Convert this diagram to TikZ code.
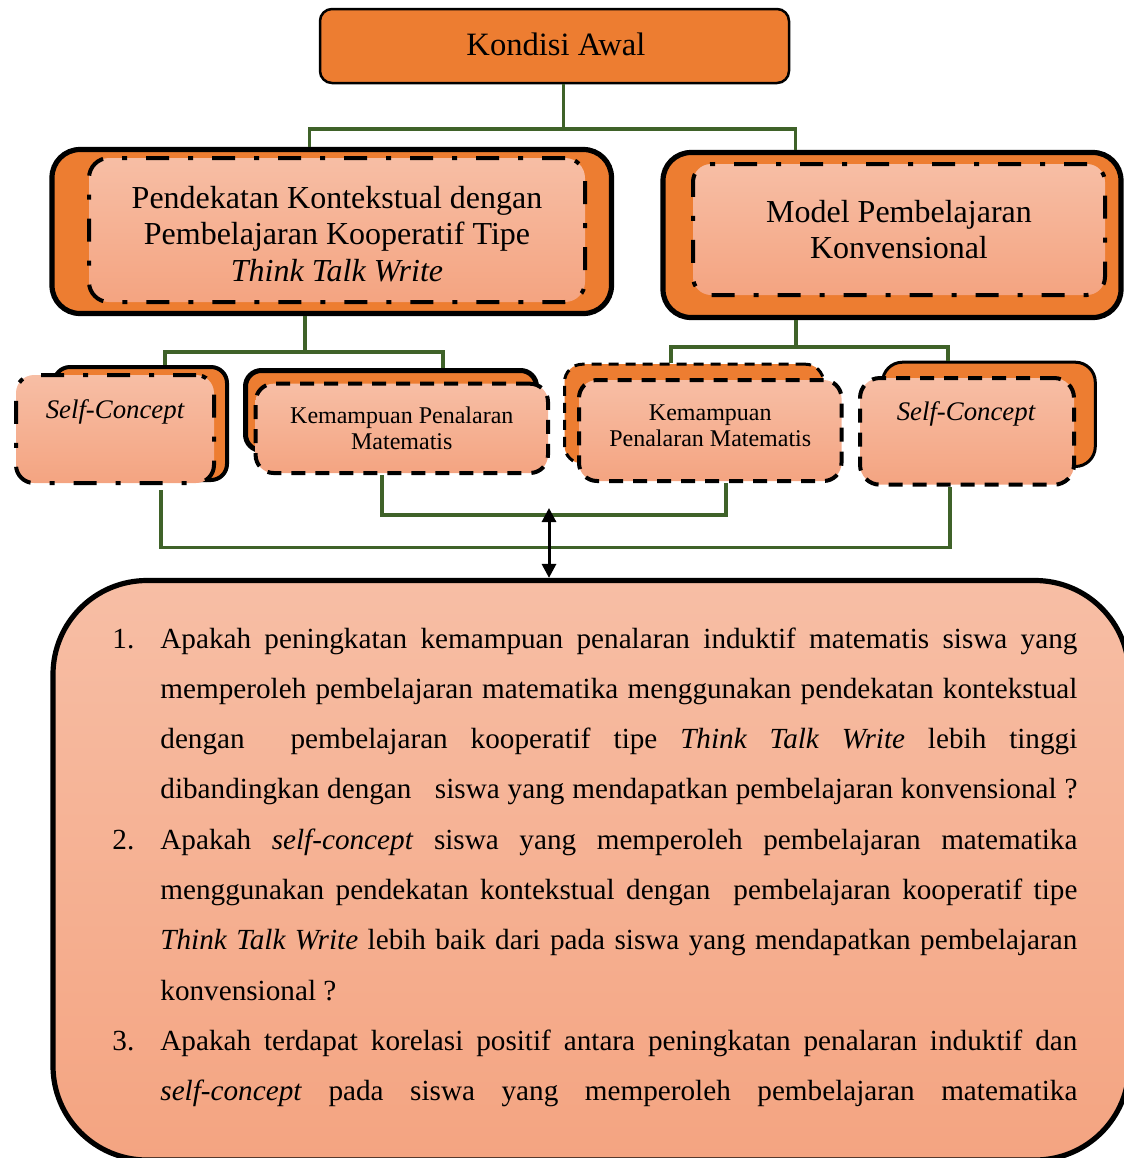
\documentclass[tikz,border=0pt]{standalone}
\usepackage{fontspec}
\setmainfont{Liberation Serif}
\usetikzlibrary{arrows.meta}
\definecolor{borange}{HTML}{ED7D31}
\definecolor{ltop}{HTML}{F7BEA5}
\definecolor{lbot}{HTML}{F4A481}
\definecolor{lgreen}{HTML}{3F6229}
\newcommand{\qfont}{\fontsize{14.6}{25.15}\selectfont}
\newcommand{\bigfont}{\fontsize{16}{18.4}\selectfont}
\newcommand{\smallfont}{\fontsize{12}{13.2}\selectfont}
\newcommand{\scfont}{\fontsize{13.4}{15}\selectfont\itshape}
\begin{document}
\begin{tikzpicture}[x=0.5pt,y=-0.5pt,
  conn/.style={draw=lgreen, line width=1.8pt},
  obox/.style={draw=black, fill=borange, inner sep=0pt},
  lbox/.style={draw=black, top color=ltop, bottom color=lbot, inner sep=0pt},
  dshdt/.style={dash pattern=on 11.5pt off 9.5pt on 2.5pt off 9.5pt},
  dshlong/.style={dash pattern=on 7pt off 5pt},
  dshthin/.style={dash pattern=on 5pt off 3.5pt},
  arr/.style={{Triangle[length=7pt,width=7pt]}-{Triangle[length=7pt,width=7pt]}, line width=1.5pt, draw=black},
  qtext/.style={anchor=base west, inner sep=0pt, text width=458.5pt, align=justify, font=\qfont},
  qnum/.style={anchor=base west, inner sep=0pt, font=\qfont}
]
\clip (0,0) rectangle (1124,1158);

% top box
\node[obox, rounded corners=6pt, line width=1.25pt, minimum width=234.5pt, minimum height=37pt] (top) at (554.5,46) {};
\node[inner sep=0pt, font=\fontsize{16.3}{19}\selectfont] (topt) at (556,44) {Kondisi Awal};

% big boxes
\node[obox, rounded corners=14pt, line width=2.6pt, minimum width=279.75pt, minimum height=82pt] (lb) at (331.75,231.5) {};
\node[lbox, dshdt, rounded corners=10pt, line width=2pt, minimum width=248pt, minimum height=72pt] (lbi) at (337,230) {};
\node[inner sep=0pt, align=center, font=\bigfont] (lbt) at (337,234) {Pendekatan Kontekstual dengan\\Pembelajaran Kooperatif Tipe\\\textit{Think Talk Write}};

\node[obox, rounded corners=14pt, line width=2.6pt, minimum width=229pt, minimum height=82.5pt] (rb) at (892,235) {};
\node[lbox, dshdt, rounded corners=9pt, line width=2pt, minimum width=206pt, minimum height=65.5pt,
  align=center, font=\bigfont] (rbi) at (899,229.5) {Model Pembelajaran\\Konvensional};

% small boxes left
\node[obox, rounded corners=8pt, line width=2pt, minimum width=86.5pt, minimum height=56.5pt] (sclb) at (140.5,423.5) {};
\node[lbox, dshdt, rounded corners=9pt, line width=2pt, minimum width=99pt, minimum height=54pt] (sclf) at (115,429) {};
\node[anchor=base, inner sep=0pt, font=\scfont] (sclt) at (115,418) {Self-Concept};

\node[obox, rounded corners=8pt, line width=2.5pt, minimum width=145.5pt, minimum height=40pt] (kplb) at (391,410.5) {};
\node[lbox, dshlong, rounded corners=9pt, line width=2pt, minimum width=146.2pt, minimum height=44.65pt,
  align=center, font=\smallfont] (kplf) at (401.8,428.35) {Kemampuan Penalaran\\Matematis};

% small boxes right
\node[obox, dshthin, rounded corners=9pt, line width=1.5pt, minimum width=129.5pt, minimum height=49.65pt] (kprb) at (694,413.85) {};
\node[lbox, dshlong, rounded corners=9pt, line width=2pt, minimum width=131.25pt, minimum height=50.5pt] (kprf) at (710.25,430.5) {};
\node[inner sep=0pt, align=center, font=\smallfont] (kprt) at (710.25,425.5) {Kemampuan\\Penalaran Matematis};

\node[obox, rounded corners=10pt, line width=1.5pt, minimum width=106.4pt, minimum height=52.15pt] (scrb) at (988.9,414.35) {};
\node[lbox, dshlong, rounded corners=10pt, line width=2pt, minimum width=107pt, minimum height=53.35pt] (scrf) at (967,431.35) {};
\node[anchor=base, inner sep=0pt, font=\scfont] (scrt) at (966,420) {Self-Concept};

% bottom box
\node[lbox, rounded corners=47pt, line width=2.6pt, minimum width=538pt, minimum height=289.75pt] (bb) at (591,870.25) {};

% connectors
\coordinate (bus1) at (563.5,129);
\coordinate (bus2) at (305,351.7);
\coordinate (bus3) at (796,346.7);
\coordinate (mid4) at (549,515);
\coordinate (mid5) at (549,547.5);
\coordinate (arrtop) at (549,508);

\draw[conn] (top.south -| bus1) -- (bus1);
\draw[conn] (bus1) -| ([xshift=-11.1pt]lb.north);
\draw[conn] (bus1) -| ([xshift=-48.2pt]rb.north);

\draw[conn] ([xshift=-13.4pt]lb.south) -- (bus2);
\draw[conn] (bus2) -| ([xshift=12.25pt]sclb.north);
\draw[conn] (bus2) -| ([xshift=26pt]kplb.north);

\draw[conn] ([xshift=-48pt]rb.south) -- (bus3);
\draw[conn] (bus3) -| ([xshift=-11.5pt]kprb.north);
\draw[conn] (bus3) -| ([xshift=-20.45pt]scrb.north);

\draw[conn] ([xshift=-9.9pt]kplf.south) |- (mid4) -| ([xshift=7.9pt]kprf.south);
\draw[conn] ([xshift=22.85pt,yshift=-2.5pt]sclf.south) |- (mid5) -| ([xshift=-8.65pt]scrf.south);

\draw[arr] ([xshift=-21pt]bb.north) -- (arrtop);

% questions
\node[qnum] (n1) at (112,648) {1.};
\node[qtext] (q1) at (160,648) {\tolerance=10000 \hyphenpenalty=10000 \exhyphenpenalty=10000
Apakah peningkatan kemampuan penalaran induktif matematis siswa yang\linebreak
memperoleh pembelajaran matematika menggunakan pendekatan kontekstual\linebreak
dengan\ \ pembelajaran kooperatif tipe \textit{Think Talk Write} lebih tinggi\linebreak
dibandingkan dengan\ \ \ siswa yang mendapatkan pembelajaran konvensional~?\parfillskip=0pt\par};

\node[qnum] (n2) at (112,849.2) {2.};
\node[qtext] (q2) at (160,849.2) {\tolerance=10000 \hyphenpenalty=10000 \exhyphenpenalty=10000
Apakah \textit{self-concept} siswa yang memperoleh pembelajaran matematika\linebreak
menggunakan pendekatan kontekstual dengan\ \ pembelajaran kooperatif tipe\linebreak
\textit{Think Talk Write} lebih baik dari pada siswa yang mendapatkan pembelajaran\linebreak
konvensional~?\par};

\node[qnum] (n3) at (112,1050.4) {3.};
\node[qtext] (q3) at (160,1050.4) {\tolerance=10000 \hyphenpenalty=10000 \exhyphenpenalty=10000
Apakah terdapat korelasi positif antara peningkatan penalaran induktif dan\linebreak
\textit{self-concept} pada siswa yang memperoleh pembelajaran matematika\parfillskip=0pt\par};
\end{tikzpicture}
\end{document}
